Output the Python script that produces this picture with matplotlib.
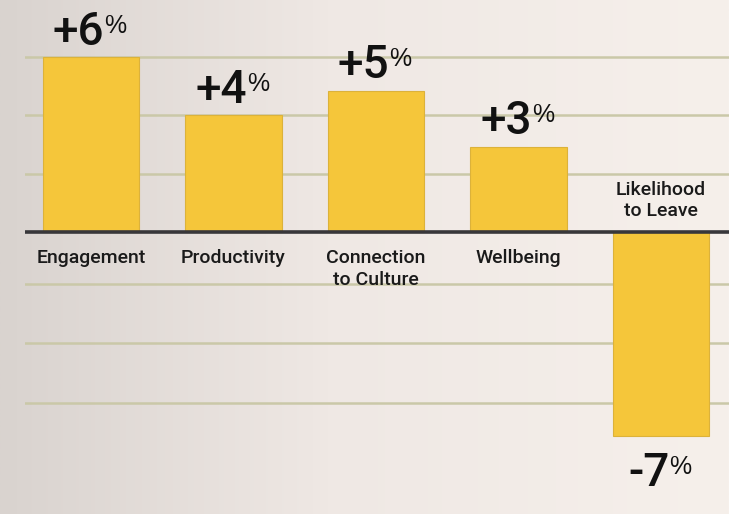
import numpy as np
import matplotlib
matplotlib.use("Agg")
import matplotlib.pyplot as plt
from matplotlib.colors import LinearSegmentedColormap

categories = ["Engagement", "Productivity", "Connection\nto Culture", "Wellbeing", "Likelihood\nto Leave"]
values = [6.0, 4.0, 4.85, 2.92, -7.03]
value_labels = ["+6", "+4", "+5", "+3", "-7"]
grid_levels = [6, 4, 2, -1.8, -3.83, -5.89]

plt.rcParams['font.family'] = ['Roboto', 'DejaVu Sans']

W, H = 729, 514
fig = plt.figure(figsize=(W/100, H/100), dpi=100)

# background gradient
bg = fig.add_axes([0, 0, 1, 1])
bg.set_axis_off()
cmap = LinearSegmentedColormap.from_list("bg", [(0, "#d9d3cf"), (0.45, "#efe8e4"), (1, "#f6f0eb")])
grad = np.linspace(0, 1, 256).reshape(1, -1)
bg.imshow(grad, aspect="auto", cmap=cmap, extent=[0, 1, 0, 1])
bg.set_xlim(0, 1); bg.set_ylim(0, 1)

left_px = 25
ax = fig.add_axes([left_px / W, 0, 1 - left_px / W, 1])
ax.set_facecolor("none")
ax.set_axis_off()

zero_px = 231.7
ppu = 29.07
ax.set_ylim(-(H - zero_px) / ppu, zero_px / ppu)
ax.set_xlim(-0.463, 4.477)

x = np.arange(len(categories))
for g in grid_levels:
    ax.axhline(g, color="#cac8a8", lw=1.8, zorder=1)
ax.bar(x, values, width=0.68, color="#f5c63a", edgecolor="#dcb23a", linewidth=0.8, zorder=2)
ax.axhline(0, color="#38373a", lw=2.6, zorder=3)

for xi, v, lab, cat in zip(x, values, value_labels, categories):
    if v >= 0:
        t = ax.annotate(lab, xy=(xi, v), xytext=(-9, 9), textcoords="offset points",
                        ha="center", va="baseline", fontsize=33, fontweight="medium", color="#111111")
        ax.annotate(cat, xy=(xi, 0), xytext=(0, -12.5), textcoords="offset points",
                    ha="center", va="top", fontsize=14, color="#1a1a1a",
                    linespacing=1.3, fontweight="medium")
    else:
        t = ax.annotate(lab, xy=(xi, v), xytext=(-9, -36), textcoords="offset points",
                        ha="center", va="baseline", fontsize=33, fontweight="medium", color="#111111")
        ax.annotate(cat, xy=(xi, 0), xytext=(0, 11.5), textcoords="offset points",
                    ha="center", va="baseline", fontsize=14, color="#1a1a1a",
                    linespacing=1.2, fontweight="medium")
    ax.annotate("%", xy=(1, 1), xycoords=t, xytext=(0, -3), textcoords="offset points",
                ha="left", va="top", fontsize=18, color="#111111",
                family=["Liberation Sans", "DejaVu Sans"])

fig.savefig("out.png", dpi=100)
